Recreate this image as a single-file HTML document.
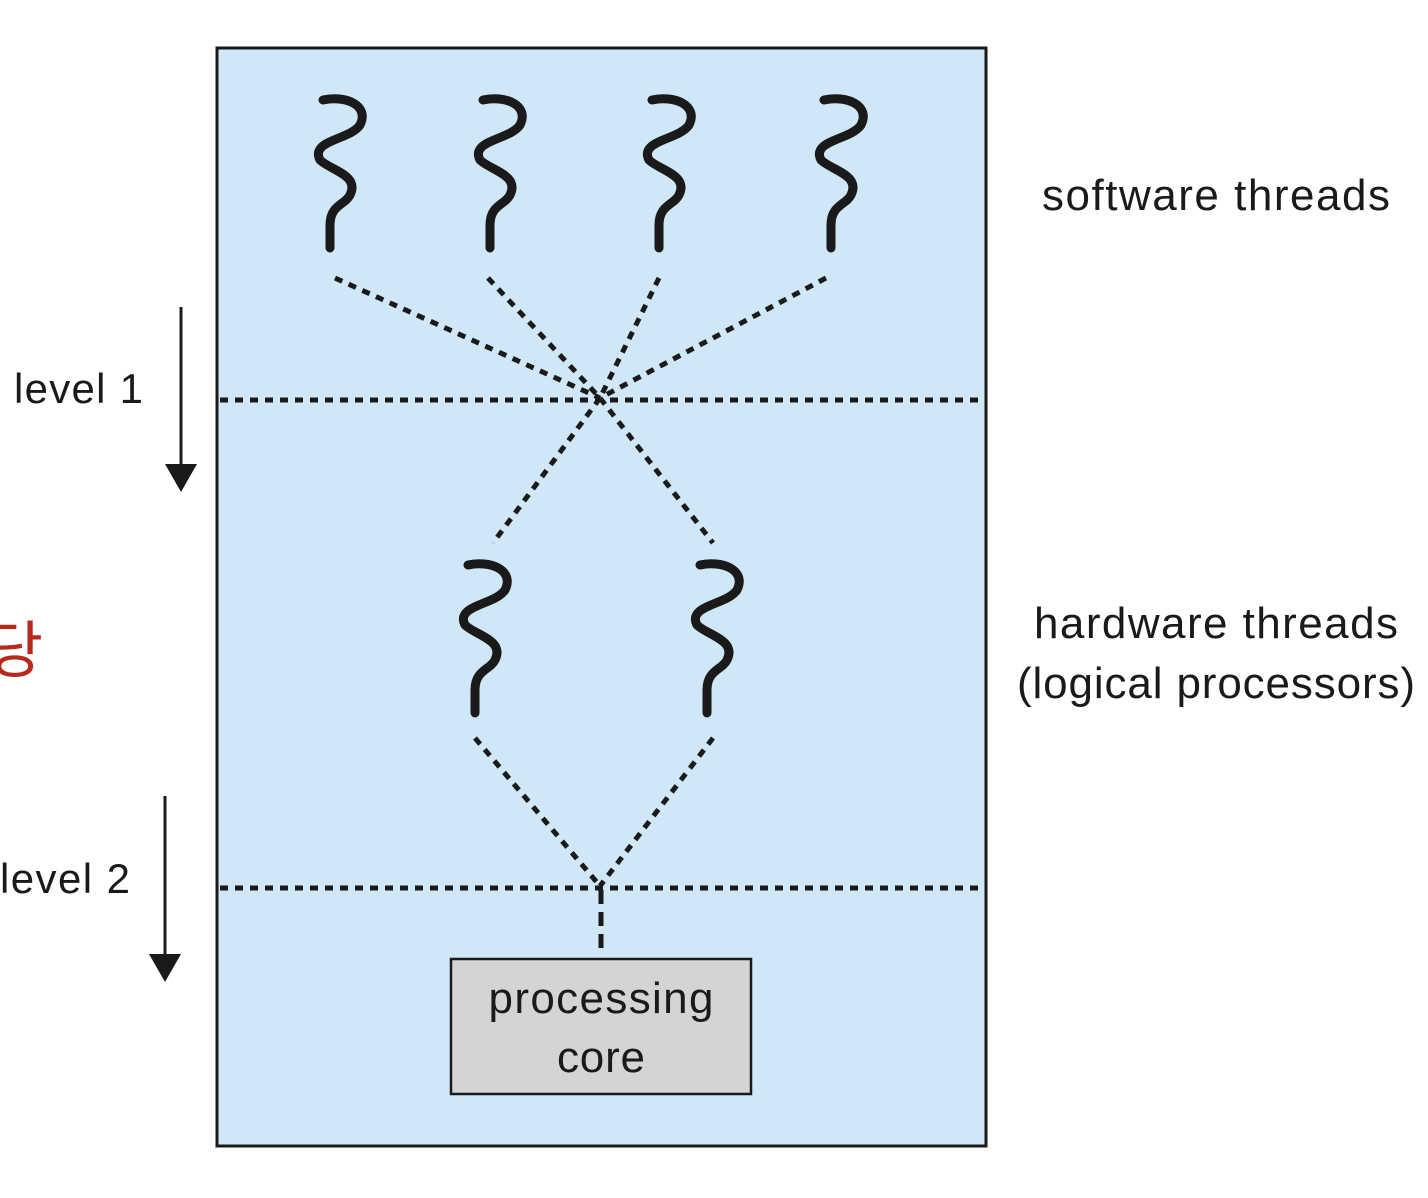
<!DOCTYPE html>
<html><head><meta charset="utf-8"><style>html,body{margin:0;padding:0;background:#fff}svg{display:block}</style></head>
<body>
<svg width="1428" height="1198" viewBox="0 0 1428 1198" xmlns="http://www.w3.org/2000/svg" font-family="Liberation Sans, sans-serif" fill="#1a1a1a">
<defs>
<path id="sq" d="M-7,-148 C15,-153 40,-143 30,-123 C20,-108 -20,-108 -10,-88 C0,-78 30,-73 20,-53 C15,-43 0,-43 0,-23 L0,0" fill="none" stroke="#1a1a1a" stroke-width="9" stroke-linecap="round"/>
</defs>
<text x="-14" y="672" font-size="62" fill="#b52a1d" font-family="Noto Sans CJK KR, sans-serif">당</text>
<rect x="217" y="48" width="769" height="1098" fill="#cfe7f6" stroke="#1a1a1a" stroke-width="3"/>
<use href="#sq" x="330" y="248"/>
<use href="#sq" x="490" y="248"/>
<use href="#sq" x="659" y="248"/>
<use href="#sq" x="831" y="248"/>
<use href="#sq" x="475" y="713"/>
<use href="#sq" x="707" y="713"/>
<g stroke="#1a1a1a" stroke-width="5" stroke-dasharray="8 7" fill="none">
<line x1="220" y1="400" x2="985" y2="400"/>
<line x1="220" y1="888" x2="985" y2="888"/>
<line x1="335" y1="278" x2="600" y2="398"/>
<line x1="488" y1="278" x2="600" y2="398"/>
<line x1="659" y1="278" x2="600" y2="398"/>
<line x1="826" y1="278" x2="600" y2="398"/>
<line x1="600" y1="398" x2="493" y2="543"/>
<line x1="600" y1="398" x2="713" y2="543"/>
<line x1="475" y1="738" x2="600" y2="886"/>
<line x1="713" y1="738" x2="600" y2="886"/>
<line x1="601" y1="890" x2="601" y2="956" stroke-dasharray="14 8"/>
</g>
<rect x="451" y="959" width="300" height="135" fill="#d4d4d4" stroke="#1a1a1a" stroke-width="2.5"/>
<text x="601" y="1013" font-size="44" text-anchor="middle" textLength="225">processing</text>
<text x="601" y="1072" font-size="44" text-anchor="middle" textLength="88">core</text>
<line x1="181" y1="307" x2="181" y2="468" stroke="#1a1a1a" stroke-width="3"/>
<polygon points="165,464 197,464 181,492"/>
<line x1="165" y1="796" x2="165" y2="958" stroke="#1a1a1a" stroke-width="3"/>
<polygon points="149,954 181,954 165,982"/>
<text x="14" y="403" font-size="42" textLength="129">level 1</text>
<text x="0" y="893" font-size="42" textLength="130">level 2</text>
<text x="1042" y="210" font-size="44" textLength="348">software threads</text>
<text x="1034" y="638" font-size="44" textLength="364">hardware threads</text>
<text x="1017" y="698" font-size="44" textLength="398">(logical processors)</text>
</svg>
</body></html>
